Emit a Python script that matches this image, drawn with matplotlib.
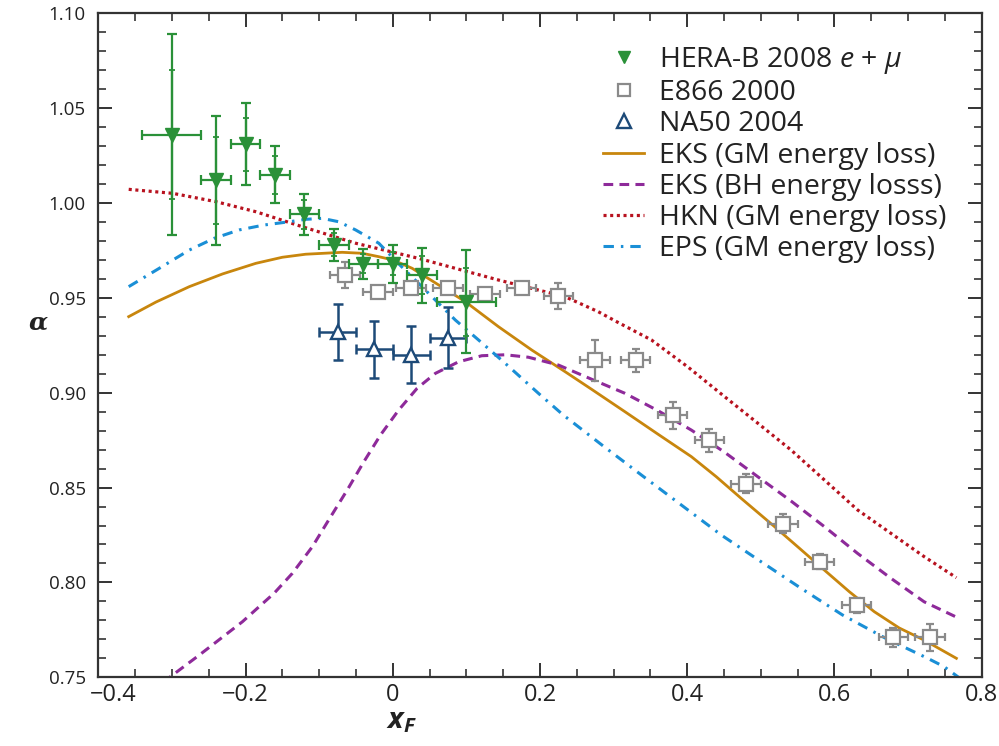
import matplotlib
matplotlib.use("Agg")
import matplotlib.pyplot as plt
from matplotlib.lines import Line2D
from matplotlib.ticker import MultipleLocator, FixedLocator
from matplotlib.transforms import ScaledTranslation
from matplotlib import font_manager as fm

# ---------------- data ----------------
herab_x = [-0.30, -0.24, -0.20, -0.16, -0.12, -0.08, -0.04, 0.0, 0.04, 0.10]
herab_y = [1.036, 1.012, 1.031, 1.015, 0.994, 0.978, 0.968, 0.968, 0.962, 0.948]
herab_xerr = [0.04, 0.02, 0.02, 0.02, 0.02, 0.02, 0.02, 0.02, 0.02, 0.04]
herab_tot = [0.053, 0.034, 0.0215, 0.015, 0.011, 0.0085, 0.008, 0.010, 0.0145, 0.027]
herab_stat = [0.034, 0.023, 0.014, 0.010, 0.0075, 0.006, 0.005, 0.006, 0.010, 0.018]

e866_x = [-0.065, -0.02, 0.025, 0.075, 0.125, 0.175, 0.225, 0.275, 0.33, 0.38,
          0.43, 0.48, 0.53, 0.58, 0.63, 0.68, 0.73]
e866_y = [0.962, 0.953, 0.955, 0.955, 0.952, 0.955, 0.951, 0.917, 0.917, 0.888,
          0.875, 0.852, 0.831, 0.811, 0.788, 0.771, 0.771]
e866_yerr = [0.007, 0.003, 0.003, 0.003, 0.003, 0.003, 0.007, 0.011, 0.006, 0.007,
             0.006, 0.005, 0.005, 0.004, 0.004, 0.005, 0.007]
e866_xerr = [0.02] * 17

na50_x = [-0.075, -0.025, 0.025, 0.075]
na50_y = [0.932, 0.923, 0.920, 0.929]
na50_yerr = [0.015, 0.015, 0.015, 0.016]
na50_xerr = [0.025, 0.025, 0.025, 0.025]

eks_gm_x = [-0.3587, -0.3216, -0.2764, -0.2313, -0.1860, -0.1500, -0.1183, -0.0687, -0.0416,
            -0.0190, 0.0, 0.0262, 0.0623, 0.0985, 0.1436, 0.1888, 0.2340, 0.2701, 0.3153,
            0.3604, 0.4056, 0.4395, 0.4733, 0.5186, 0.5524, 0.5863, 0.6202, 0.6540, 0.6879,
            0.7218, 0.7656]
eks_gm_y = [0.9401, 0.9478, 0.9559, 0.9626, 0.9682, 0.9714, 0.9730, 0.9740, 0.9735,
            0.9717, 0.9700, 0.9656, 0.9568, 0.9480, 0.9348, 0.9225, 0.9111, 0.9018, 0.8900,
            0.8781, 0.8663, 0.8557, 0.8443, 0.8294, 0.8180, 0.8065, 0.7951, 0.7846, 0.7760,
            0.7696, 0.7600]

eks_bh_x = [-0.312, -0.2990, -0.2629, -0.2335, -0.2042, -0.1816, -0.1612, -0.1364, -0.1093,
            -0.0844, -0.0619, -0.0393, -0.0167, 0.0081, 0.0330, 0.0579, 0.0894, 0.1210,
            0.1527, 0.1843, 0.2249, 0.2701, 0.3153, 0.3604, 0.4056, 0.4508, 0.4959, 0.5410,
            0.5863, 0.6314, 0.6766, 0.7218, 0.7647]
eks_bh_y = [0.7474, 0.7512, 0.7617, 0.7705, 0.7793, 0.7872, 0.7943, 0.8048, 0.8188,
            0.8346, 0.8487, 0.8636, 0.8777, 0.8909, 0.9023, 0.9102, 0.9163, 0.9195,
            0.9200, 0.9187, 0.9146, 0.9071, 0.8997, 0.8905, 0.8803, 0.8686, 0.8557, 0.8429,
            0.8294, 0.8153, 0.8022, 0.7898, 0.7819]

hkn_x = [-0.3587, -0.2990, -0.2402, -0.1860, -0.1229, -0.0505, 0.0352, 0.1436, 0.2340,
         0.2791, 0.3062, 0.3514, 0.4011, 0.4508, 0.4959, 0.5410, 0.5863, 0.6314, 0.6766,
         0.7218, 0.7656]
hkn_y = [1.0072, 1.0051, 1.0007, 0.9954, 0.9875, 0.9788, 0.9708, 0.9594, 0.9506,
         0.9427, 0.9370, 0.9278, 0.9135, 0.8979, 0.8839, 0.8698, 0.8540, 0.8382, 0.8259,
         0.8136, 0.8025]

eps_x = [-0.3587, -0.3171, -0.2764, -0.2425, -0.2087, -0.1748, -0.1409, -0.1183, -0.0958,
         -0.0732, -0.0505, -0.0190, 0.0100, 0.0533, 0.0850, 0.1165, 0.1527, 0.1978, 0.2317,
         0.2859, 0.3378, 0.3920, 0.4462, 0.5004, 0.5546, 0.6111, 0.6698, 0.7266, 0.7489,
         0.7720]
eps_y = [0.9559, 0.9656, 0.9752, 0.9814, 0.9858, 0.9884, 0.9901, 0.9914, 0.9919,
         0.9901, 0.9858, 0.9788, 0.9672, 0.9506, 0.9383, 0.9278, 0.9155, 0.8997, 0.8882,
         0.8719, 0.8566, 0.8408, 0.8250, 0.8109, 0.7969, 0.7828, 0.7705, 0.7600, 0.7556,
         0.7490]

x_ticks = [-0.4, -0.2, 0.0, 0.2, 0.4, 0.6, 0.8]
x_ticklabels = ["\u22120.4", "\u22120.2", "0", "0.2", "0.4", "0.6", "0.8"]
y_ticks = [0.75, 0.80, 0.85, 0.90, 0.95, 1.00, 1.05, 1.10]
y_ticklabels = ["0.75", "0.80", "0.85", "0.90", "0.95", "1.00", "1.05", "1.10"]

legend_labels = [
    r"HERA-B 2008 $e$ + $\mu$",
    "E866 2000",
    "NA50 2004",
    "EKS (GM energy loss)",
    "EKS (BH energy losss)",
    "HKN (GM energy loss)",
    "EPS (GM energy loss)",
]

# ---------------- style ----------------
names = {f.name for f in fm.fontManager.ttflist}
main_font = "Open Sans" if "Open Sans" in names else "DejaVu Sans"

plt.rcParams["font.family"] = [main_font, "DejaVu Sans"]
plt.rcParams["mathtext.fontset"] = "custom"
plt.rcParams["mathtext.rm"] = main_font
plt.rcParams["mathtext.it"] = main_font + ":italic"
plt.rcParams["mathtext.bf"] = main_font + ":italic:bold"
plt.rcParams["lines.scale_dashes"] = False

C_GREEN = "#2a9138"
C_GRAY = "#8a8a8a"
C_NAVY = "#1d4a78"
C_ORANGE = "#c8860d"
C_PURPLE = "#8e2a9a"
C_RED = "#b8121f"
C_BLUE = "#1a8fd6"
C_AX = "#333333"
C_TXT = "#222222"

LS_BH = (0, (7.0, 4.5))
LS_HKN = (0, (2.2, 2.6))
LS_EPS = (0, (7.5, 5.0, 1.8, 5.0))

fig = plt.figure(figsize=(9.99, 7.46), dpi=100)
ax = fig.add_axes([0.0984, 0.0921, 0.8843, 0.8901])

# curves
ax.plot(eks_gm_x, eks_gm_y, color=C_ORANGE, lw=2.0, zorder=2, solid_joinstyle="round")
ax.plot(eks_bh_x, eks_bh_y, color=C_PURPLE, lw=2.2, linestyle=LS_BH, zorder=2)
ax.plot(hkn_x, hkn_y, color=C_RED, lw=2.3, linestyle=LS_HKN, zorder=2)
ax.plot(eps_x, eps_y, color=C_BLUE, lw=2.2, linestyle=LS_EPS, zorder=2)

# E866
ax.errorbar(e866_x, e866_y, xerr=e866_xerr, yerr=e866_yerr, fmt="none",
            ecolor=C_GRAY, elinewidth=1.6, capsize=3.2, capthick=1.6, zorder=3)
ax.plot(e866_x, e866_y, linestyle="none", marker="s", markersize=9.5,
        markerfacecolor="white", markeredgecolor=C_GRAY, markeredgewidth=1.6, zorder=4)

# NA50
ax.errorbar(na50_x, na50_y, xerr=na50_xerr, yerr=na50_yerr, fmt="none",
            ecolor=C_NAVY, elinewidth=1.8, capsize=3.5, capthick=1.8, zorder=3)
ax.plot(na50_x, na50_y, linestyle="none", marker="^", markersize=10.5,
        markerfacecolor="white", markeredgecolor=C_NAVY, markeredgewidth=1.7, zorder=4)

# HERA-B
ax.errorbar(herab_x, herab_y, xerr=herab_xerr, yerr=herab_tot, fmt="none",
            ecolor=C_GREEN, elinewidth=1.6, capsize=3.5, capthick=1.6, zorder=5)
ax.errorbar(herab_x, herab_y, yerr=herab_stat, fmt="none",
            ecolor=C_GREEN, elinewidth=1.6, capsize=2.2, capthick=1.3, zorder=5)
ax.plot(herab_x, herab_y, linestyle="none", marker="v", markersize=9.5,
        color=C_GREEN, markeredgecolor=C_GREEN, zorder=6)

# axes
ax.set_xlim(-0.4, 0.8)
ax.set_ylim(0.75, 1.10)
ax.xaxis.set_major_locator(FixedLocator(x_ticks))
ax.yaxis.set_major_locator(FixedLocator(y_ticks))
ax.set_xticklabels(x_ticklabels)
ax.set_yticklabels(y_ticklabels)
ax.xaxis.set_minor_locator(MultipleLocator(0.05))
ax.yaxis.set_minor_locator(MultipleLocator(0.01))
ax.tick_params(which="both", direction="in", top=True, right=True, color=C_AX)
ax.tick_params(which="major", length=10, width=1.4)
ax.tick_params(which="minor", length=5.5, width=1.2)
ax.tick_params(axis="y", which="major", labelsize=13.5, labelcolor=C_TXT, pad=9)
ax.tick_params(axis="x", which="major", labelsize=17, labelcolor=C_TXT, pad=4)
for sp in ax.spines.values():
    sp.set_color(C_AX)
    sp.set_linewidth(1.6)

# shift the leftmost x label right, clear of the 0.75 label (as in the original)
first_lab = ax.get_xticklabels()[0]
first_lab.set_transform(first_lab.get_transform()
                        + ScaledTranslation(15 / 100, 0, fig.dpi_scale_trans))

# axis titles
fig.text(0.038, 1 - 322 / 746, "\u03b1", fontsize=18, fontweight="bold", fontstyle="italic",
         family="DejaVu Serif", ha="center", va="center", color=C_TXT)
fig.text(401 / 999, 1 - 721 / 746, r"$\mathbf{x}_{\mathbf{F}}$", fontsize=21,
         ha="center", va="center", color=C_TXT)

handles = [
    Line2D([], [], linestyle="none", marker="v", markersize=9, color=C_GREEN),
    Line2D([], [], linestyle="none", marker="s", markersize=9, markerfacecolor="white",
           markeredgecolor=C_GRAY, markeredgewidth=1.6),
    Line2D([], [], linestyle="none", marker="^", markersize=9.5, markerfacecolor="white",
           markeredgecolor=C_NAVY, markeredgewidth=1.7),
    Line2D([], [], color=C_ORANGE, lw=2.0),
    Line2D([], [], color=C_PURPLE, lw=2.2, linestyle=LS_BH),
    Line2D([], [], color=C_RED, lw=2.3, linestyle=LS_HKN),
    Line2D([], [], color=C_BLUE, lw=2.2, linestyle=LS_EPS),
]
leg = ax.legend(handles, legend_labels, loc="upper left", bbox_to_anchor=(0.5713, 0.952),
                frameon=False, fontsize=20.5, labelspacing=0.11, handlelength=1.45,
                handletextpad=0.53, borderpad=0, borderaxespad=0)
for t in leg.get_texts():
    t.set_color(C_TXT)

fig.savefig("out.png", dpi=100)
